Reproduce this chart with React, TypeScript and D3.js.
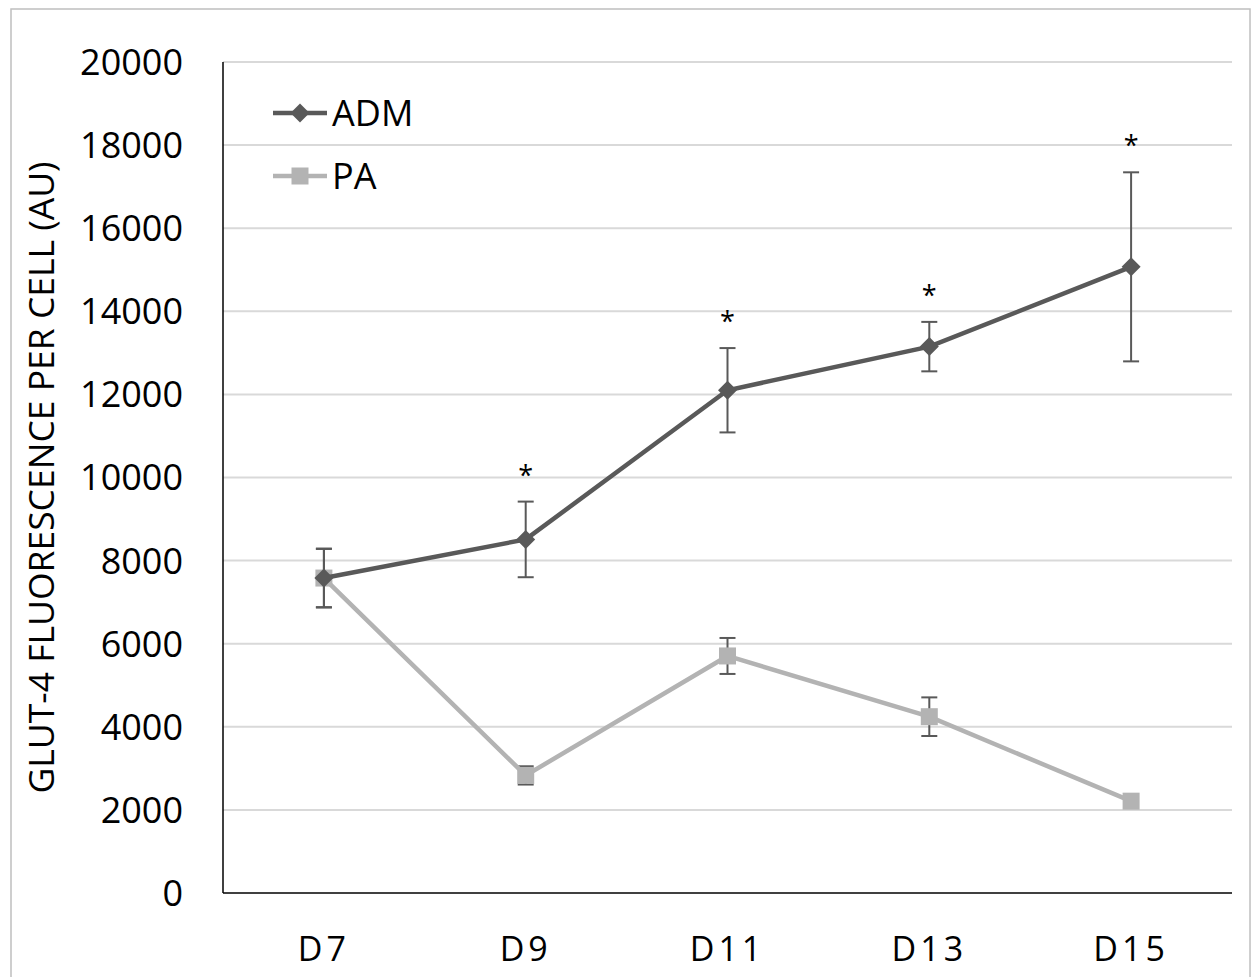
import React from "react";
import * as d3 from "d3";

const categories = ["D7", "D9", "D11", "D13", "D15"];
const admValues = [7580, 8510, 12100, 13150, 15070];
const admErrors = [710, 910, 1015, 595, 2275];
const paValues = [7580, 2830, 5705, 4243, 2210];
const paErrors = [700, 220, 433, 465, 0];
const significant = [false, true, true, true, true];
const yTicks = [0, 2000, 4000, 6000, 8000, 10000, 12000, 14000, 16000, 18000, 20000];
const seriesNames = ["ADM", "PA"];

const W = 1252;
const H = 977;
const left = 223;
const right = 1232;
const top = 62;
const bottom = 893;
const FONT = "'Open Sans', 'Liberation Sans', sans-serif";
const ADM_COLOR = "#595959";
const PA_COLOR = "#b3b3b3";
const ERR_COLOR = "#595959";

export default function App() {
  const x = d3.scaleBand<string>().domain(categories).range([left, right]).padding(0);
  const y = d3.scaleLinear().domain([0, 20000]).range([bottom, top]);
  const cx = (c: string) => (x(c) as number) + x.bandwidth() / 2;
  const line = d3
    .line<number>()
    .x((_, i) => cx(categories[i]))
    .y((v) => y(v));

  const diamond = (px: number, py: number, r: number) =>
    `M${px},${py - r}L${px + r},${py}L${px},${py + r}L${px - r},${py}Z`;

  const errBars = (vals: number[], errs: number[], key: string) =>
    vals.map((v, i) => {
      if (!errs[i]) return null;
      const px = cx(categories[i]);
      const y1 = y(v + errs[i]);
      const y2 = y(v - errs[i]);
      return (
        <g key={key + i} stroke={ERR_COLOR} strokeWidth={2}>
          <line x1={px} x2={px} y1={y1} y2={y2} />
          <line x1={px - 8} x2={px + 8} y1={y1} y2={y1} />
          <line x1={px - 8} x2={px + 8} y1={y2} y2={y2} />
        </g>
      );
    });

  return (
    <div style={{ position: "absolute", left: 0, top: 0 }}>
      <svg width={W} height={H} style={{ display: "block", background: "#fff" }}>
        <rect x={11} y={9} width={1239} height={975} fill="#fff" stroke="#bfbfbf" strokeWidth={1.5} />
        {yTicks.map((t) => (
          <g key={t}>
            {t > 0 && (
              <line x1={left} x2={right} y1={y(t)} y2={y(t)} stroke="#d9d9d9" strokeWidth={2} />
            )}
            <text
              x={183}
              y={y(t)}
              dy="0.36em"
              textAnchor="end"
              fontFamily={FONT}
              fontSize={36}
              fill="#000"
            >
              {t}
            </text>
          </g>
        ))}
        <line x1={left} x2={left} y1={top} y2={bottom} stroke="#000" strokeWidth={1.5} />
        <line x1={left} x2={right} y1={bottom} y2={bottom} stroke="#000" strokeWidth={1.5} />
        {categories.map((c) => (
          <text
            key={c}
            x={cx(c)}
            y={961}
            textAnchor="middle"
            fontFamily={FONT}
            fontSize={34}
            letterSpacing={4}
            fill="#000"
          >
            {c}
          </text>
        ))}
        <text
          transform={`translate(54, ${(top + bottom) / 2}) rotate(-90)`}
          textAnchor="middle"
          fontFamily={FONT}
          fontSize={35.5}
          fill="#000"
        >
          GLUT-4 FLUORESCENCE PER CELL (AU)
        </text>

        {errBars(paValues, paErrors, "pa")}
        <path d={line(paValues) || ""} fill="none" stroke={PA_COLOR} strokeWidth={4.5} />
        {paValues.map((v, i) => (
          <rect
            key={"pm" + i}
            x={cx(categories[i]) - 8.5}
            y={y(v) - 8.5}
            width={17}
            height={17}
            fill={PA_COLOR}
          />
        ))}

        {errBars(admValues, admErrors, "adm")}
        <path d={line(admValues) || ""} fill="none" stroke={ADM_COLOR} strokeWidth={4.5} />
        {admValues.map((v, i) => (
          <path key={"am" + i} d={diamond(cx(categories[i]), y(v), 9.5)} fill={ADM_COLOR} />
        ))}
        {admValues.map((v, i) =>
          significant[i] ? (
            <text
              key={"s" + i}
              x={cx(categories[i])}
              y={y(v + admErrors[i]) - 17}
              textAnchor="middle"
              fontFamily={FONT}
              fontSize={27}
              fill="#000"
            >
              *
            </text>
          ) : null
        )}

        <g>
          <line x1={273} x2={327} y1={113} y2={113} stroke={ADM_COLOR} strokeWidth={4.5} />
          <path d={diamond(300, 113, 9.5)} fill={ADM_COLOR} />
          <text x={332} y={126} fontFamily={FONT} fontSize={36} fill="#000">
            {seriesNames[0]}
          </text>
          <line x1={273} x2={327} y1={176} y2={176} stroke={PA_COLOR} strokeWidth={4.5} />
          <rect x={291.5} y={167.5} width={17} height={17} fill={PA_COLOR} />
          <text x={332} y={189} fontFamily={FONT} fontSize={36} fill="#000">
            {seriesNames[1]}
          </text>
        </g>
      </svg>
    </div>
  );
}
